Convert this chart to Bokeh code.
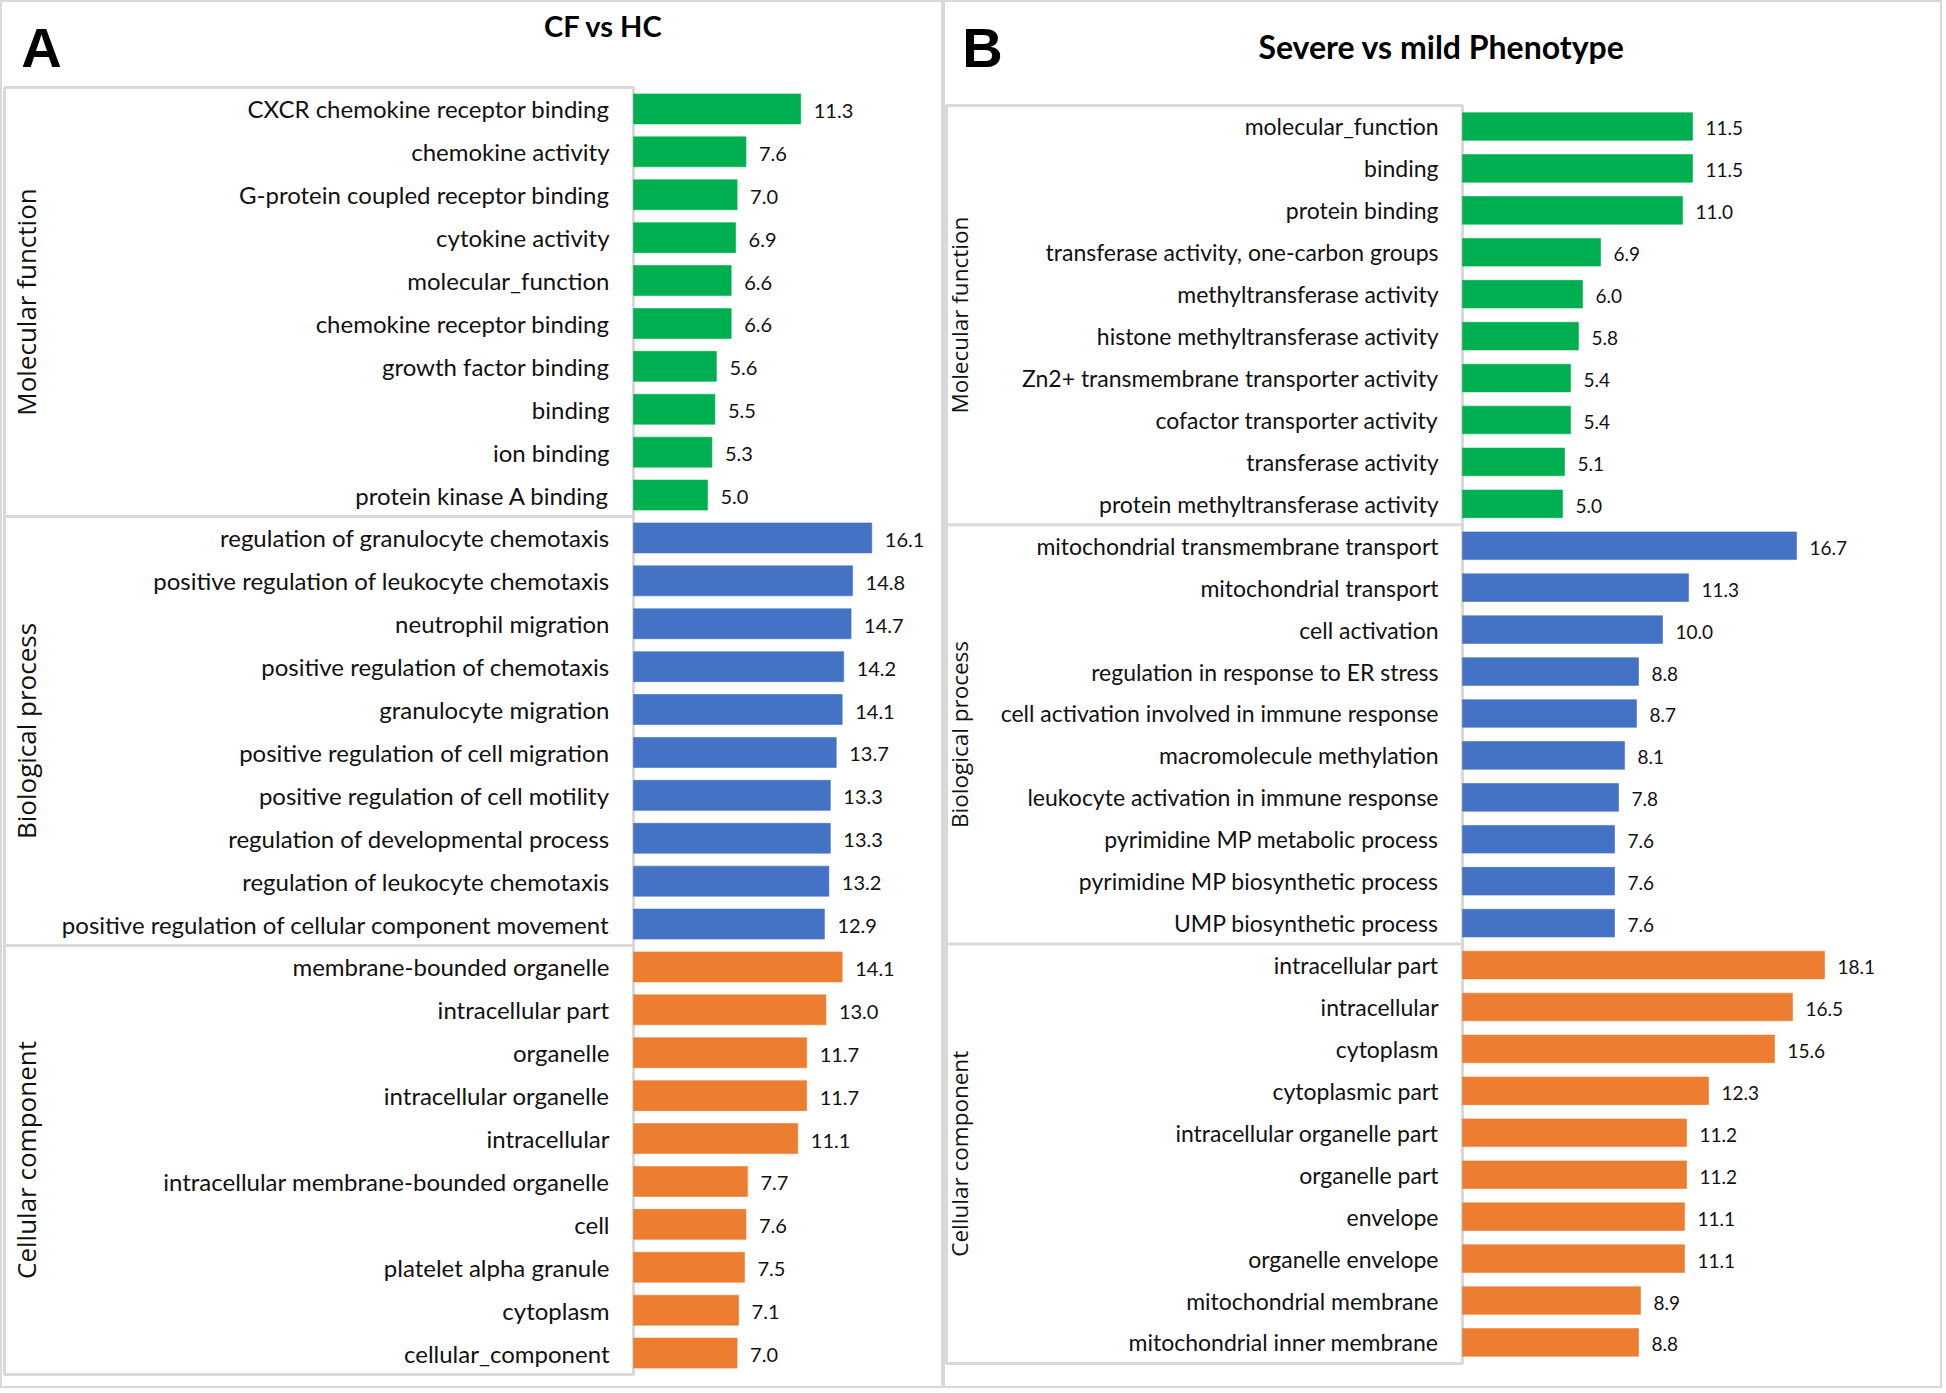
from math import pi
from bokeh.plotting import figure
from bokeh.layouts import row
from bokeh.models import Range1d, Label, ColumnDataSource
from bokeh.core.properties import value
from bokeh.embed import file_html
from bokeh.resources import INLINE

# ---------------- data ----------------
a_mf_terms = ["CXCR chemokine receptor binding", "chemokine activity", "G-protein coupled receptor binding",
              "cytokine activity", "molecular_function", "chemokine receptor binding", "growth factor binding",
              "binding", "ion binding", "protein kinase A binding"]
a_mf_vals = [11.3, 7.6, 7.0, 6.9, 6.6, 6.6, 5.6, 5.5, 5.3, 5.0]
a_bp_terms = ["regulation of granulocyte chemotaxis", "positive regulation of leukocyte chemotaxis",
              "neutrophil migration", "positive regulation of chemotaxis", "granulocyte migration",
              "positive regulation of cell migration", "positive regulation of cell motility",
              "regulation of developmental process", "regulation of leukocyte chemotaxis",
              "positive regulation of cellular component movement"]
a_bp_vals = [16.1, 14.8, 14.7, 14.2, 14.1, 13.7, 13.3, 13.3, 13.2, 12.9]
a_cc_terms = ["membrane-bounded organelle", "intracellular part", "organelle", "intracellular organelle",
              "intracellular", "intracellular membrane-bounded organelle", "cell", "platelet alpha granule",
              "cytoplasm", "cellular_component"]
a_cc_vals = [14.1, 13.0, 11.7, 11.7, 11.1, 7.7, 7.6, 7.5, 7.1, 7.0]

b_mf_terms = ["molecular_function", "binding", "protein binding", "transferase activity, one-carbon groups",
              "methyltransferase activity", "histone methyltransferase activity",
              "Zn2+ transmembrane transporter activity", "cofactor transporter activity",
              "transferase activity", "protein methyltransferase activity"]
b_mf_vals = [11.5, 11.5, 11.0, 6.9, 6.0, 5.8, 5.4, 5.4, 5.1, 5.0]
b_bp_terms = ["mitochondrial transmembrane transport", "mitochondrial transport", "cell activation",
              "regulation in response to ER stress", "cell activation involved in immune response",
              "macromolecule methylation", "leukocyte activation in immune response",
              "pyrimidine MP metabolic process", "pyrimidine MP biosynthetic process", "UMP biosynthetic process"]
b_bp_vals = [16.7, 11.3, 10.0, 8.8, 8.7, 8.1, 7.8, 7.6, 7.6, 7.6]
b_cc_terms = ["intracellular part", "intracellular", "cytoplasm", "cytoplasmic part", "intracellular organelle part",
              "organelle part", "envelope", "organelle envelope", "mitochondrial membrane",
              "mitochondrial inner membrane"]
b_cc_vals = [18.1, 16.5, 15.6, 12.3, 11.2, 11.2, 11.1, 11.1, 8.9, 8.8]

group_names = ["Molecular function", "Biological process", "Cellular component"]
group_colors = ["#00b050", "#4472c4", "#ed7d31"]

GRID = "#d9d9d9"


def panel(width, height, bar_x0, px_per_unit, top_px, row_px, groups, title, letter,
          title_xy, letter_xy, label_size, value_size,
          group_size, group_x, bar_h, title_size, box_left_px):
    x0 = -bar_x0 / px_per_unit
    x1 = x0 + width / px_per_unit
    y_end = -top_px / row_px
    y_start = y_end + height / row_px
    p = figure(width=width, height=height, output_backend="svg", toolbar_location=None,
               x_range=Range1d(x0, x1), y_range=Range1d(y_start, y_end),
               min_border=0, min_border_left=0, min_border_right=0,
               min_border_top=0, min_border_bottom=0)
    p.axis.visible = False
    p.grid.visible = False
    p.outline_line_color = GRID
    p.outline_line_width = 3
    p.background_fill_color = "white"
    p.border_fill_color = "white"

    terms, vals, cols, ys = [], [], [], []
    n = 0
    bounds = []
    for (t, v), c in zip(groups, group_colors):
        start = n
        for tt, vv in zip(t, v):
            terms.append(tt); vals.append(vv); cols.append(c); ys.append(n + 0.5)
            n += 1
        bounds.append((start, n))

    # label column box and separators
    box_left = x0 + box_left_px / px_per_unit
    p.quad(left=[box_left], right=[0], top=[0], bottom=[n], fill_color=None,
           line_color=GRID, line_width=3)
    p.segment(x0=[box_left] * (len(bounds) - 1), x1=[0] * (len(bounds) - 1),
              y0=[b[1] for b in bounds[:-1]], y1=[b[1] for b in bounds[:-1]],
              line_color=GRID, line_width=3)

    src = ColumnDataSource(dict(y=ys, v=vals, c=cols, t=terms, vt=[f"{x:.1f}" for x in vals]))
    p.hbar(y="y", left=0, right="v", height=bar_h, fill_color="c", line_color="c",
           line_alpha=0.6, source=src)
    p.text(x=0, y="y", text="t", source=src, x_offset=-24, text_align="right",
           text_baseline="middle", text_font=value("Lato"), text_font_size=label_size,
           text_color="#111111")
    p.text(x="v", y="y", text="vt", source=src, x_offset=13, y_offset=2, text_align="left",
           text_baseline="middle", text_font=value("Lato"), text_font_size=value_size,
           text_color="#111111")

    for name, (s, e) in zip(group_names, bounds):
        p.add_layout(Label(x=group_x, y=(s + e) / 2, x_units="screen", y_units="data",
                           text=name, angle=pi / 2, text_align="center", text_baseline="middle",
                           text_font="Open Sans", text_font_size=group_size, text_color="#111111"))

    p.add_layout(Label(x=title_xy[0], y=height - title_xy[1], x_units="screen", y_units="screen",
                       text=title, text_align="center", text_baseline="middle",
                       text_font="Lato", text_font_style="bold",
                       text_font_size=title_size, text_color="black"))
    p.add_layout(Label(x=letter_xy[0], y=height - letter_xy[1], x_units="screen", y_units="screen",
                       text=letter, text_align="center", text_baseline="middle",
                       text_font="Liberation Sans", text_font_style="bold",
                       text_font_size="56px", text_color="black"))
    return p


pa = panel(943, 1388, 633, 14.8, 87, 42.9,
           [(a_mf_terms, a_mf_vals), (a_bp_terms, a_bp_vals), (a_cc_terms, a_cc_vals)],
           "CF vs HC", "A", (603, 25), (41, 47),
           "24px", "20px", "26px", 25, 0.7, "29px", 4)
pb = panel(999, 1388, 519, 20.0, 105, 41.93,
           [(b_mf_terms, b_mf_vals), (b_bp_terms, b_bp_vals), (b_cc_terms, b_cc_vals)],
           "Severe vs mild Phenotype", "B", (498, 46), (39, 47),
           "23px", "19px", "22.5px", 16, 0.66, "32px", 3)

layout = row(pa, pb, spacing=0)
open("out.html", "w").write(file_html(layout, INLINE))
